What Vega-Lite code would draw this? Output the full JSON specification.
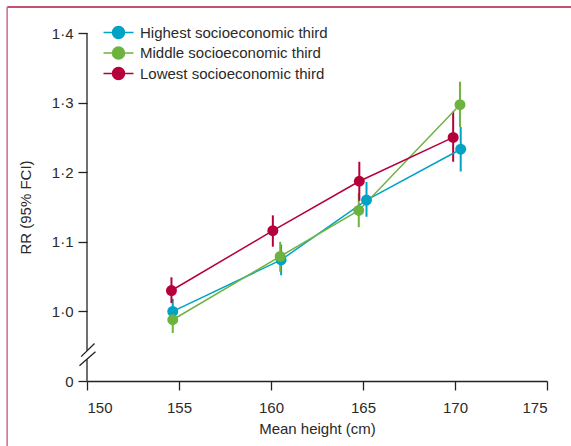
{
  "$schema": "https://vega.github.io/schema/vega-lite/v6.json",
  "width": 460,
  "height": 348,
  "autosize": "none",
  "padding": {"left": 87, "top": 33, "right": 24, "bottom": 65},
  "background": "white",
  "config": {
    "view": {"stroke": null},
    "font": "Liberation Sans",
    "axis": {"labelFont": "Liberation Sans", "titleFont": "Liberation Sans", "labelFontSize": 15, "titleFontSize": 15, "labelColor": "#2a2a2a", "titleColor": "#2a2a2a", "titleFontWeight": "normal", "grid": false, "domainColor": "#222", "tickColor": "#222", "domainWidth": 1.3, "tickWidth": 1.3, "tickSize": 9}
  },
  "datasets": {
    "points": [
      {"group": "Highest socioeconomic third", "x": 154.66, "y": 1.000, "lo": 0.982, "hi": 1.018},
      {"group": "Highest socioeconomic third", "x": 160.55, "y": 1.074, "lo": 1.052, "hi": 1.096},
      {"group": "Highest socioeconomic third", "x": 165.19, "y": 1.160, "lo": 1.136, "hi": 1.186},
      {"group": "Highest socioeconomic third", "x": 170.31, "y": 1.233, "lo": 1.201, "hi": 1.265},
      {"group": "Middle socioeconomic third", "x": 154.66, "y": 0.988, "lo": 0.969, "hi": 1.008},
      {"group": "Middle socioeconomic third", "x": 160.50, "y": 1.079, "lo": 1.057, "hi": 1.100},
      {"group": "Middle socioeconomic third", "x": 164.77, "y": 1.145, "lo": 1.121, "hi": 1.170},
      {"group": "Middle socioeconomic third", "x": 170.27, "y": 1.297, "lo": 1.265, "hi": 1.330},
      {"group": "Lowest socioeconomic third", "x": 154.59, "y": 1.030, "lo": 1.012, "hi": 1.049},
      {"group": "Lowest socioeconomic third", "x": 160.10, "y": 1.116, "lo": 1.093, "hi": 1.138},
      {"group": "Lowest socioeconomic third", "x": 164.80, "y": 1.187, "lo": 1.159, "hi": 1.215},
      {"group": "Lowest socioeconomic third", "x": 169.90, "y": 1.250, "lo": 1.215, "hi": 1.287}
    ],
    "axisline": [
      {"part": "lower", "x": 150, "x2": 150, "y": 0.9, "y2": 0.9314},
      {"part": "upper", "x": 150, "x2": 150, "y": 0.9433, "y2": 1.4}
    ],
    "slashes": [
      {"part": "a", "x": 149.68, "x2": 150.41, "y": 0.935, "y2": 0.954},
      {"part": "b", "x": 149.59, "x2": 150.46, "y": 0.922, "y2": 0.942}
    ],
    "frame": [
      {"side": "top", "x": 145.66, "x2": 177, "y": 1.4374, "y2": 1.4374, "c": "top"},
      {"side": "left", "x": 145.66, "x2": 145.66, "y": 1.4374, "y2": 0.75, "c": "left"}
    ]
  },
  "layer": [
    {
      "data": {"name": "frame"},
      "mark": {"type": "rule", "strokeWidth": 1.6, "clip": false},
      "encoding": {
        "x": {"field": "x", "type": "quantitative", "title": "Mean height (cm)"},
        "x2": {"field": "x2"},
        "y": {"field": "y", "type": "quantitative", "title": "RR (95% FCI)"},
        "y2": {"field": "y2"},
        "stroke": {"field": "c", "type": "nominal", "scale": {"domain": ["top", "left"], "range": ["#b3163f", "#d9708f"]}, "legend": null}
      }
    },
    {
      "data": {"name": "axisline"},
      "mark": {"type": "rule", "strokeWidth": 1.3, "color": "#222", "clip": false},
      "encoding": {
        "x": {"field": "x", "type": "quantitative", "title": "Mean height (cm)"},
        "x2": {"field": "x2"},
        "y": {"field": "y", "type": "quantitative", "title": "RR (95% FCI)"},
        "y2": {"field": "y2"}
      }
    },
    {
      "data": {"name": "slashes"},
      "mark": {"type": "rule", "strokeWidth": 1.3, "color": "#222", "clip": false},
      "encoding": {
        "x": {"field": "x", "type": "quantitative", "title": "Mean height (cm)"},
        "x2": {"field": "x2"},
        "y": {"field": "y", "type": "quantitative", "title": "RR (95% FCI)"},
        "y2": {"field": "y2"}
      }
    },
    {
      "data": {"name": "points"},
      "mark": {"type": "rule", "strokeWidth": 2},
      "encoding": {
        "x": {"field": "x", "type": "quantitative", "title": "Mean height (cm)",
              "scale": {"domain": [150, 175], "zero": false, "nice": false},
              "axis": {"values": [150, 155, 160, 165, 170, 175], "labelPadding": 10, "titlePadding": 6}},
        "y": {"field": "lo", "type": "quantitative", "title": "RR (95% FCI)",
              "scale": {"domain": [0.9, 1.4], "zero": false, "nice": false},
              "axis": {"domain": false, "values": [0.9, 1.0, 1.1, 1.2, 1.3, 1.4], "labelPadding": 5, "titlePadding": 18,
                       "labelExpr": "datum.value < 0.95 ? '0' : replace(format(datum.value, '.1f'), '.', '·')"}},
        "y2": {"field": "hi"},
        "color": {"field": "group", "type": "nominal",
                  "scale": {"domain": ["Highest socioeconomic third", "Middle socioeconomic third", "Lowest socioeconomic third"], "range": ["#00a2c6", "#6db33f", "#b5003b"]}}
      }
    },
    {
      "data": {"name": "points"},
      "mark": {"type": "line", "strokeWidth": 1.5},
      "encoding": {
        "x": {"field": "x", "type": "quantitative", "title": "Mean height (cm)"},
        "y": {"field": "y", "type": "quantitative", "title": "RR (95% FCI)"},
        "color": {"field": "group", "type": "nominal"},
        "order": {"field": "x", "type": "quantitative"}
      }
    },
    {
      "data": {"name": "points"},
      "mark": {"type": "point", "filled": true, "opacity": 1, "size": 120, "shape": "circle"},
      "encoding": {
        "x": {"field": "x", "type": "quantitative", "title": "Mean height (cm)"},
        "y": {"field": "y", "type": "quantitative", "title": "RR (95% FCI)"},
        "color": {"field": "group", "type": "nominal",
                  "legend": {"orient": "none", "legendX": 24, "legendY": -8, "title": null, "padding": 0,
                             "symbolType": "M-2.5,0L2.5,0M1,0A1,1,0,1,1,-1,0A1,1,0,1,1,1,0Z",
                             "symbolSize": 144, "symbolStrokeWidth": 1.5, "symbolOpacity": 1,
                             "labelFont": "Liberation Sans", "labelFontSize": 15, "labelColor": "#2a2a2a",
                             "labelOffset": 14, "rowPadding": 1.5, "labelLimit": 300}}
      }
    }
  ]
}
